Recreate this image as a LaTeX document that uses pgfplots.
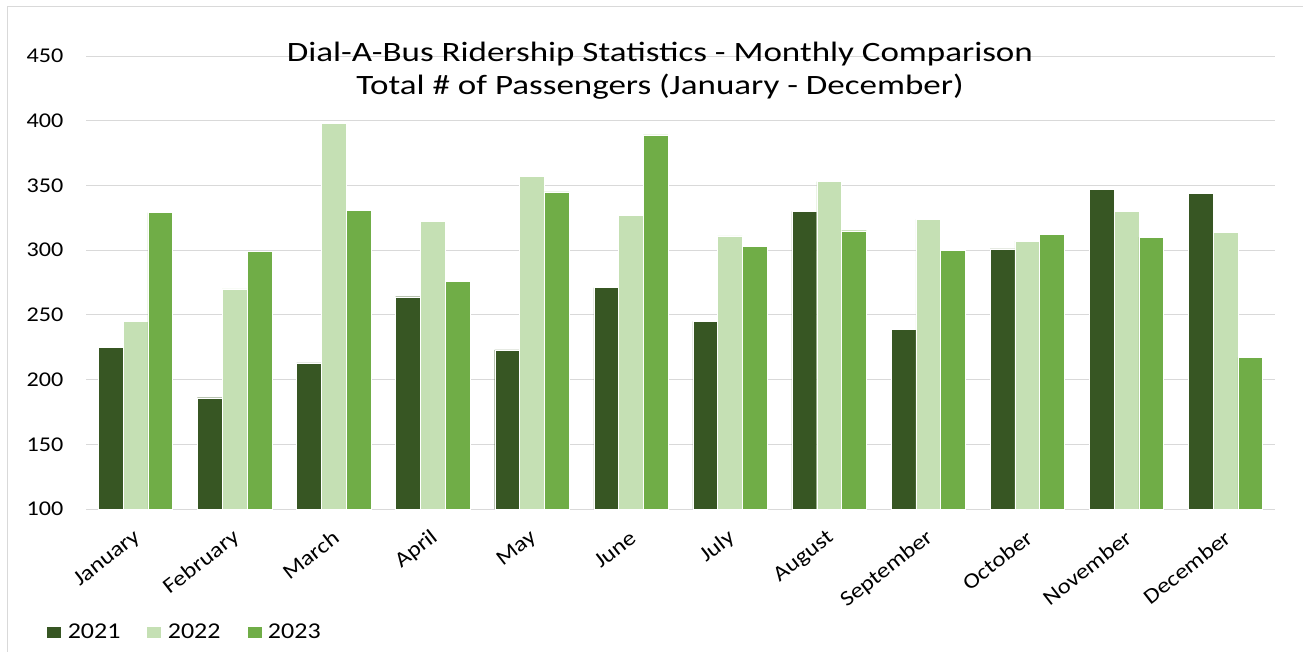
\documentclass[border=0pt]{standalone}
\usepackage{fontspec}
\setmainfont{Carlito}[FakeStretch=1.15]
\newfontfamily\titlefont{Carlito}[FakeStretch=1.25]
\usepackage{pgfplots}
\usepackage{pgfplotstable}
\pgfplotsset{compat=1.18}
\definecolor{c21}{HTML}{375623}
\definecolor{c22}{HTML}{C5E0B4}
\definecolor{c23}{HTML}{70AD47}
\definecolor{gridc}{HTML}{D9D9D9}
\pgfplotstableread{
x a b c
0 225 245 329
1 186 270 299
2 213 398 331
3 264 322 276
4 223 357 345
5 271 327 389
6 245 311 303
7 330 353 315
8 239 324 300
9 301 307 312
10 347 330 310
11 344 314 217
}\datatable
\begin{document}
\begin{tikzpicture}
\draw[gridc, line width=1pt] (7pt,-660pt) -- (7pt,-6pt) -- (1310pt,-6pt);
\begin{axis}[
  at={(86pt,-509pt)}, anchor=south west,
  width=1189pt, height=453pt, scale only axis,
  xmin=-0.5, xmax=11.5, ymin=100, ymax=450,
  ytick={100,150,...,450},
  xtick={0,...,11},
  xticklabels={January,February,March,April,May,June,July,August,September,October,November,December},
  ymajorgrids, grid style={gridc, line width=1pt},
  axis line style={draw=none},
  major tick length=0pt,
  ybar=0pt, bar width=24.77pt,
  /pgf/number format/assume math mode=true,
  yticklabel style={font=\fontsize{21}{24}\selectfont, xshift=-19pt},
  xticklabel style={font=\fontsize{21.5}{24}\selectfont, xshift=5pt, yshift=-24pt, rotate=38, anchor=east},
  legend style={at={(-0.036,-0.272)}, anchor=west, draw=none, fill=none,
    font=\fontsize{22.6}{24}\selectfont, legend columns=3,
    /tikz/every odd column/.append style={column sep=4pt},
    /tikz/every even column/.append style={column sep=24pt}},
  legend image code/.code={\fill[#1] (0pt,-6pt) rectangle (15pt,6pt);},
]
\addplot[fill=c21, draw=white, line width=0.4pt] table[x=x,y=a]{\datatable};
\addplot[fill=c22, draw=white, line width=0.4pt] table[x=x,y=b]{\datatable};
\addplot[fill=c23, draw=white, line width=0.4pt] table[x=x,y=c]{\datatable};
\legend{2021,2022,2023}
\end{axis}
\node[anchor=base, font=\titlefont\fontsize{28}{30}\selectfont] at (660pt,-61pt) {Dial-A-Bus Ridership Statistics - Monthly Comparison};
\node[anchor=base, font=\titlefont\fontsize{28}{30}\selectfont] at (660pt,-94pt) {Total \# of Passengers (January - December)};
\pgfresetboundingbox
\useasboundingbox (0pt,0pt) rectangle (1303pt,-651pt);
\end{tikzpicture}
\end{document}
